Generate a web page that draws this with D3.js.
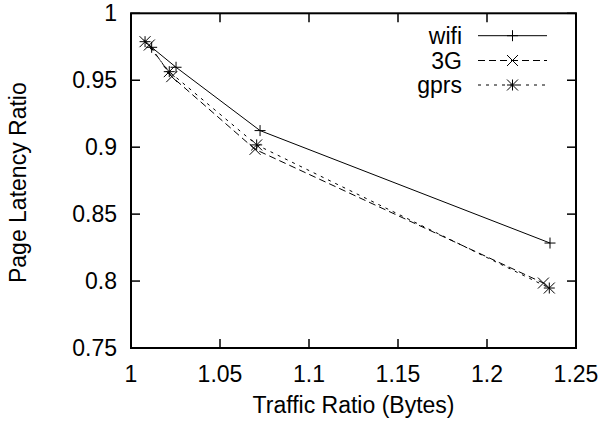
<!DOCTYPE html>
<html>
<head>
<meta charset="utf-8">
<script src="https://cdn.jsdelivr.net/npm/d3@7"></script>
<style>
  body { margin: 0; background: #fff; }
  text { font-family: "Liberation Sans", Arial, sans-serif; fill: #000; }
</style>
</head>
<body>
<svg id="chart" width="603" height="425"></svg>
<script>
// values
const wifiX = [1.0116, 1.0253, 1.0725, 1.2354];
const wifiY = [0.9746, 0.9597, 0.9124, 0.8284];
const g3X = [1.0103, 1.0229, 1.0697, 1.2317];
const g3Y = [0.9763, 0.9527, 0.8984, 0.7985];
const gprsX = [1.0079, 1.0215, 1.0706, 1.2350];
const gprsY = [0.9788, 0.9564, 0.9017, 0.7948];
const seriesNames = ["wifi", "3G", "gprs"];
const xTicks = [1, 1.05, 1.1, 1.15, 1.2, 1.25];
const yTicks = [0.75, 0.8, 0.85, 0.9, 0.95, 1];

const svg = d3.select("#chart");
const width = 603, height = 425;
const margin = { top: 13.3, right: 27, bottom: 77, left: 131 };
const fs = 23;

const x = d3.scaleLinear().domain([1, 1.25]).range([margin.left, width - margin.right]);
const y = d3.scaleLinear().domain([0.75, 1]).range([height - margin.bottom, margin.top]);

const series = [
  { name: seriesNames[0], xs: wifiX, ys: wifiY, dash: null, marker: "plus" },
  { name: seriesNames[1], xs: g3X, ys: g3Y, dash: "7,4", marker: "cross" },
  { name: seriesNames[2], xs: gprsX, ys: gprsY, dash: "3,5", marker: "star" }
];

const markerPath = (type, cx, cy) => {
  const s = 5.5;
  const p = `M${cx - s},${cy}L${cx + s},${cy}M${cx},${cy - s}L${cx},${cy + s}`;
  const c = `M${cx - s},${cy - s}L${cx + s},${cy + s}M${cx - s},${cy + s}L${cx + s},${cy - s}`;
  if (type === "plus") return p;
  if (type === "cross") return c;
  return p + c;
};

// ticks, mirrored on all four sides like gnuplot
const tl = 9;
const ticks = svg.append("g").attr("stroke", "#000").attr("stroke-width", 1.5);
xTicks.forEach(t => {
  ticks.append("line").attr("x1", x(t)).attr("x2", x(t)).attr("y1", y(0.75)).attr("y2", y(0.75) - tl);
  ticks.append("line").attr("x1", x(t)).attr("x2", x(t)).attr("y1", y(1)).attr("y2", y(1) + tl);
});
yTicks.forEach(t => {
  ticks.append("line").attr("x1", x(1)).attr("x2", x(1) + tl).attr("y1", y(t)).attr("y2", y(t));
  ticks.append("line").attr("x1", x(1.25)).attr("x2", x(1.25) - tl).attr("y1", y(t)).attr("y2", y(t));
});

// tick labels
svg.append("g").selectAll("text").data(xTicks).join("text")
  .attr("x", d => x(d)).attr("y", 382)
  .attr("text-anchor", "middle").attr("font-size", fs)
  .text(d => d);
svg.append("g").selectAll("text").data(yTicks).join("text")
  .attr("x", 117).attr("y", d => y(d)).attr("dy", "0.35em")
  .attr("text-anchor", "end").attr("font-size", fs)
  .text(d => d);

// axis titles
svg.append("text").attr("x", (x(1) + x(1.25)) / 2).attr("y", 413)
  .attr("text-anchor", "middle").attr("font-size", fs).text("Traffic Ratio (Bytes)");
svg.append("text").attr("transform", `translate(18,${(y(1) + y(0.75)) / 2 + 2}) rotate(-90)`)
  .attr("dy", "0.35em")
  .attr("text-anchor", "middle").attr("font-size", fs).text("Page Latency Ratio");

// lines and markers
const line = d3.line().x(d => x(d[0])).y(d => y(d[1]));
series.forEach(s => {
  const pts = s.xs.map((v, i) => [v, s.ys[i]]);
  svg.append("path").datum(pts)
    .attr("d", line).attr("fill", "none").attr("stroke", "#000")
    .attr("stroke-width", 1).attr("stroke-dasharray", s.dash);
  svg.append("g").selectAll("path").data(pts).join("path")
    .attr("d", d => markerPath(s.marker, x(d[0]), y(d[1])))
    .attr("stroke", "#000").attr("stroke-width", 1).attr("fill", "none");
});

// legend
const legendY = [35.7, 60.5, 85];
series.forEach((s, i) => {
  const ly = legendY[i];
  svg.append("text").attr("x", 462).attr("y", ly).attr("dy", "0.35em")
    .attr("text-anchor", "end").attr("font-size", fs).text(s.name);
  svg.append("line").attr("x1", 478).attr("x2", 547).attr("y1", ly).attr("y2", ly)
    .attr("stroke", "#000").attr("stroke-width", 1).attr("stroke-dasharray", s.dash);
  svg.append("path").attr("d", markerPath(s.marker, 512.5, ly))
    .attr("stroke", "#000").attr("stroke-width", 1).attr("fill", "none");
});

// frame
svg.append("rect")
  .attr("x", x(1)).attr("y", y(1))
  .attr("width", x(1.25) - x(1)).attr("height", y(0.75) - y(1))
  .attr("fill", "none").attr("stroke", "#000").attr("stroke-width", 2);
</script>
</body>
</html>
